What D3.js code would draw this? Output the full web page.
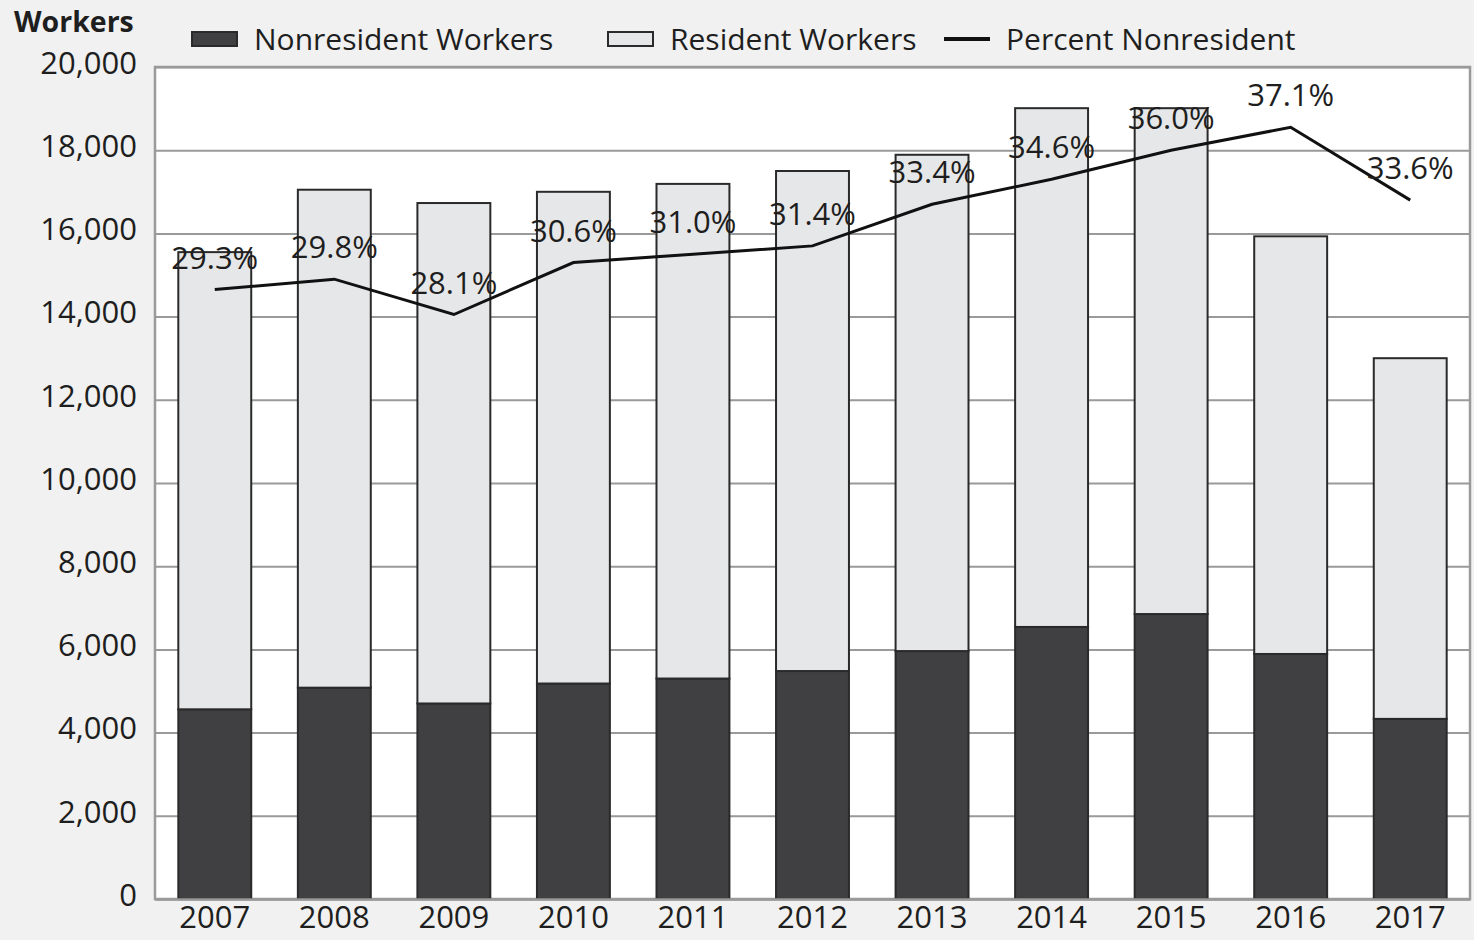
<!DOCTYPE html>
<html>
<head>
<meta charset="utf-8">
<script src="https://cdn.jsdelivr.net/npm/d3@7"></script>
<style>
  html, body { margin: 0; padding: 0; background: #f0f1f0; overflow: hidden; }
  svg text { font-family: "Open Sans", sans-serif; fill: #1e1e1e; }
</style>
</head>
<body>
<div class="chart"></div>
<script>
// Data
const years = ['2007','2008','2009','2010','2011','2012','2013','2014','2015','2016','2017'];
const nonresident = [4560, 5080, 4700, 5180, 5300, 5480, 5960, 6540, 6850, 5890, 4330];
const resident = [10990, 11970, 12030, 11820, 11890, 12020, 11930, 12470, 12160, 10040, 8670];
const pctNonresident = [29.3, 29.8, 28.1, 30.6, 31.0, 31.4, 33.4, 34.6, 36.0, 37.1, 33.6];
const yTicks = [0, 2000, 4000, 6000, 8000, 10000, 12000, 14000, 16000, 18000, 20000];

const seriesNames = ['Nonresident Workers', 'Resident Workers'];
const seriesColors = ['#404042', '#e6e7e8'];

// table for the stack
const rows = years.map((y, i) => ({year: y, non: nonresident[i], res: resident[i], pct: pctNonresident[i]}));

// canvas
const svg_width = 1474, svg_height = 940;
const margin = {top: 67, right: 4, bottom: 41, left: 155};
const width = svg_width - margin.left - margin.right;
const height = svg_height - margin.top - margin.bottom;

const svg = d3.select('.chart').append('svg')
    .attr('width', svg_width).attr('height', svg_height)
    .style('display', 'block');

const g = svg.append('g').attr('transform', `translate(${margin.left},${margin.top})`);

// scales
const xScale = d3.scaleBand().domain(years).range([0, width]).paddingInner(0.39).paddingOuter(0.195);
const yScale = d3.scaleLinear().domain([0, 20000]).range([height, 0]);
const pScale = d3.scaleLinear().domain([0, 40]).range([height, 0]);

// plot background
g.append('rect').attr('width', width).attr('height', height).attr('fill', '#ffffff');

// gridlines + y axis
const yAxis = d3.axisLeft(yScale).tickValues(yTicks).tickFormat(d3.format(',')).tickSize(-width).tickPadding(18);
const yAxisDraw = g.append('g').attr('class', 'y axis').call(yAxis);
yAxisDraw.select('.domain').remove();
yAxisDraw.selectAll('.tick line').attr('stroke', '#9a9a9a').attr('stroke-width', 2);
yAxisDraw.selectAll('.tick text').style('font-size', '31px').attr('dy', '0.2em').attr('fill', '#1e1e1e');

// plot border
g.append('rect').attr('width', width).attr('height', height)
    .attr('fill', 'none').attr('stroke', '#9a9a9a').attr('stroke-width', 2.5);

// stacked bars
const stack = d3.stack().keys(['non', 'res']);
const stacked = stack(rows);
g.selectAll('.layer').data(stacked).enter()
    .append('g').attr('class', 'layer')
    .attr('fill', (d, i) => seriesColors[i])
    .selectAll('rect').data(d => d).enter()
    .append('rect')
    .attr('x', d => xScale(d.data.year))
    .attr('y', d => yScale(d[1]))
    .attr('width', xScale.bandwidth())
    .attr('height', d => yScale(d[0]) - yScale(d[1]))
    .attr('stroke', '#2a2a2a').attr('stroke-width', 2);

// x axis
const xAxis = d3.axisBottom(xScale).tickSize(0).tickPadding(7);
const xAxisDraw = g.append('g').attr('class', 'x axis')
    .attr('transform', `translate(0,${height})`).call(xAxis);
xAxisDraw.select('.domain').attr('stroke', '#9a9a9a').attr('stroke-width', 2.5);
xAxisDraw.selectAll('.tick text').style('font-size', '31px').attr('fill', '#1e1e1e');

// percent line
const cx = d => xScale(d.year) + xScale.bandwidth() / 2;
const lineGen = d3.line().x(cx).y(d => pScale(d.pct));
g.append('path').datum(rows)
    .attr('d', lineGen)
    .attr('fill', 'none').attr('stroke', '#111').attr('stroke-width', 3);

// percent labels
g.append('g').selectAll('text').data(rows).enter()
    .append('text')
    .attr('x', cx)
    .attr('y', d => pScale(d.pct) - 21)
    .attr('text-anchor', 'middle')
    .style('font-size', '31px')
    .text(d => d.pct.toFixed(1) + '%');

// axis title
svg.append('text').attr('x', 14).attr('y', 32)
    .style('font-size', '28.5px').style('font-weight', 'bold')
    .text('Workers');

// legend
const legend = svg.append('g').attr('class', 'legend');
const legendItems = [
    {name: seriesNames[0], x: 192, type: 'rect', fill: seriesColors[0]},
    {name: seriesNames[1], x: 608, type: 'rect', fill: seriesColors[1]},
    {name: 'Percent Nonresident', x: 944, type: 'line'}
];
legendItems.forEach(it => {
    if (it.type === 'rect') {
        legend.append('rect').attr('x', it.x).attr('y', 32).attr('width', 45).attr('height', 14)
            .attr('fill', it.fill).attr('stroke', '#2a2a2a').attr('stroke-width', 2);
    } else {
        legend.append('line').attr('x1', it.x).attr('x2', it.x + 46).attr('y1', 39).attr('y2', 39)
            .attr('stroke', '#111').attr('stroke-width', 4);
    }
    legend.append('text').attr('x', it.x + 62).attr('y', 50)
        .style('font-size', '30px').text(it.name);
});
</script>
</body>
</html>
